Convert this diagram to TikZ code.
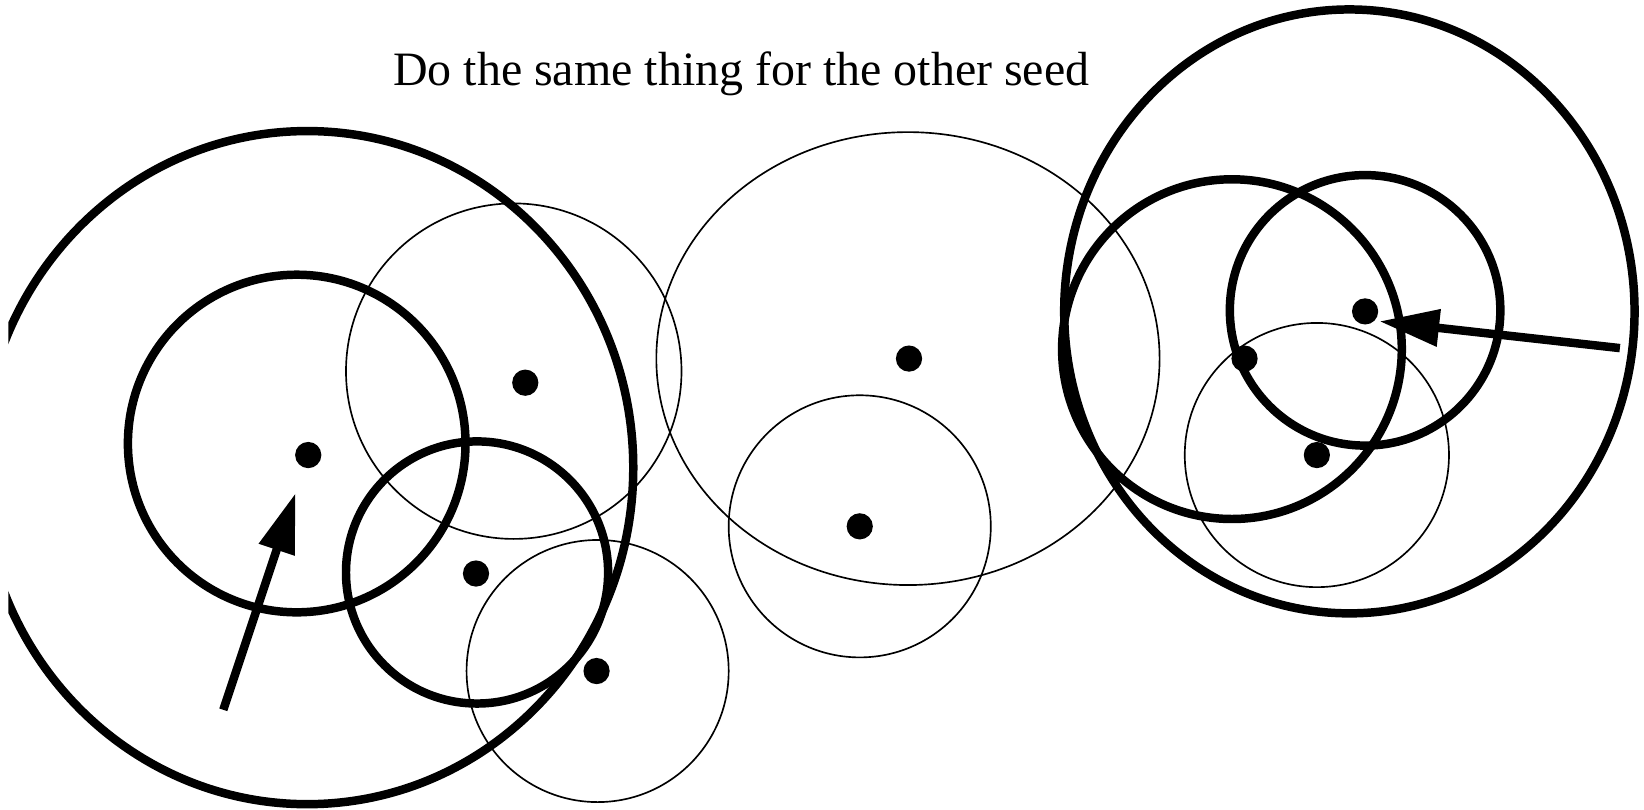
\documentclass[tikz,border=0pt]{standalone}
\usepackage{fontspec}
\setmainfont{Liberation Serif}
\usetikzlibrary{arrows.meta}
\begin{document}
\begin{tikzpicture}[x=0.01cm,y=-0.01cm,
  thickring/.style={line width=2.3pt},
  thinring/.style={line width=0.45pt},
  seed/.style={circle,fill,inner sep=0pt,minimum size=0.25cm},
  push/.style={line width=2.3pt,-{Triangle[length=0.57cm,width=0.34cm]}}]
\useasboundingbox (0,0) rectangle (1568,772);
\node[font=\fontsize{13}{15}\selectfont,anchor=base] (caption) at (707,82) {Do the same thing for the other seed};
\begin{scope}
\clip (8,0) rectangle (1568,772);
% left group
\draw[thickring] (293,446) ellipse [x radius=311, y radius=321];
\draw[thickring] (283,423) circle [radius=161];
\draw[thickring] (455,546) circle [radius=125];
\draw[thinring] (490,354) circle [radius=160];
\draw[thinring] (570,640) circle [radius=125];
\node[seed] (s1) at (294,434) {};
\node[seed] (s2) at (501,365) {};
\node[seed] (s3) at (454,547) {};
\node[seed] (s4) at (569,640) {};
\coordinate (t1) at (213,677);
\draw[push,shorten >=0.25cm] (t1) -- (s1);
% middle group
\draw[thinring] (866,342) ellipse [x radius=240, y radius=216];
\draw[thinring] (820,502) circle [radius=125];
\node[seed] (s5) at (867,342) {};
\node[seed] (s6) at (820,502) {};
% right group
\draw[thickring] (1287,297) ellipse [x radius=272, y radius=288];
\draw[thickring] (1175,333) circle [radius=162];
\draw[thickring] (1302,296) circle [radius=129];
\draw[thinring] (1256,434) circle [radius=126];
\node[seed] (s7) at (1302,297) {};
\node[seed] (s8) at (1187,342) {};
\node[seed] (s9) at (1256,434) {};
\coordinate (t2) at (1545,332);
\draw[push,shorten >=0.04cm] (t2) -- (s7.-43);
\end{scope}
\end{tikzpicture}
\end{document}
